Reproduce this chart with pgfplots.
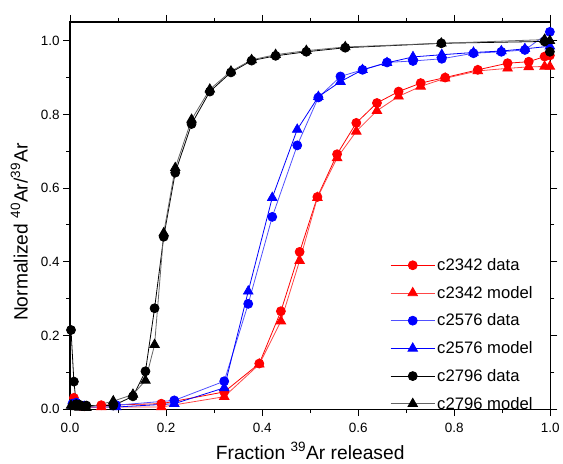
\documentclass[border=0pt]{standalone}
\usepackage{pgfplots}
\pgfplotsset{compat=1.18}
\usepackage{fontspec}
\setmainfont{Liberation Sans}
\definecolor{redmodel}{RGB}{255,70,70}
\definecolor{bluedata}{RGB}{80,80,255}
\definecolor{graymodel}{RGB}{100,100,100}
\begin{document}
\begin{tikzpicture}
\begin{axis}[
  scale only axis, width=482pt, height=388.7pt,
  xmin=0, xmax=1, ymin=0, ymax=1.051,
  xtick={0,0.2,0.4,0.6,0.8,1.0}, minor x tick num=1,
  ytick={0,0.2,0.4,0.6,0.8,1.0}, minor y tick num=1,
  tick align=outside, major tick length=7pt, minor tick length=4pt,
  axis line style={line width=1.2pt, black},
  tick style={line width=1pt, black},
  clip=false,
  xticklabel style={/pgf/number format/fixed, /pgf/number format/fixed zerofill, /pgf/number format/precision=1, /pgf/number format/assume math mode=true, font=\fontsize{13.5}{16}\selectfont, yshift=-3pt},
  yticklabel style={/pgf/number format/fixed, /pgf/number format/fixed zerofill, /pgf/number format/precision=1, /pgf/number format/assume math mode=true, font=\fontsize{13.5}{16}\selectfont},
  xlabel={Fraction \textsuperscript{39}Ar released},
  ylabel={Normalized \textsuperscript{40}Ar/\textsuperscript{39}Ar},
  xlabel style={font=\fontsize{19.3}{23}\selectfont, at={(axis description cs:0.5,0)}, anchor=base, yshift=-50pt},
  ylabel style={font=\fontsize{19.3}{23}\selectfont, at={(axis description cs:0,0.457)}, anchor=base, yshift=42.6pt},
  legend cell align=left,
  legend style={draw=none, fill=none, at={(rel axis cs:0.66,0.40)}, anchor=north west,
    font=\fontsize{16.7}{20}\selectfont, row sep=10.2pt},
  legend image code/.code={\draw[mark repeat=2,mark phase=2,#1] plot coordinates {(0cm,0cm) (0.78cm,0cm) (1.56cm,0cm)};},
]
% c2342 data
\addplot[red, line width=0.8pt, mark=*, mark size=4.5pt, mark options={fill=red, draw=red}] coordinates {
(0.008,0.031)(0.015,0.012)(0.03,0.008)(0.065,0.011)(0.19,0.015)(0.321,0.047)(0.394,0.124)(0.439,0.266)(0.478,0.427)(0.515,0.576)(0.556,0.692)(0.596,0.777)(0.639,0.831)(0.684,0.862)(0.730,0.885)(0.781,0.900)(0.849,0.921)(0.911,0.939)(0.955,0.943)(0.988,0.957)(0.999,0.96)};
\addlegendentry{c2342 data}
% c2342 model
\addplot[redmodel, line width=0.8pt, mark=triangle*, mark size=5.5pt, mark options={fill=red, draw=red}] coordinates {
(0.008,0.015)(0.015,0.008)(0.03,0.005)(0.065,0.006)(0.19,0.006)(0.321,0.034)(0.394,0.122)(0.439,0.239)(0.478,0.403)(0.515,0.574)(0.556,0.682)(0.596,0.754)(0.639,0.810)(0.684,0.849)(0.730,0.876)(0.781,0.898)(0.849,0.918)(0.911,0.925)(0.955,0.929)(0.988,0.930)(0.999,0.93)};
\addlegendentry{c2342 model}
% c2576 data
\addplot[bluedata, line width=0.8pt, mark=*, mark size=4.5pt, mark options={fill=blue, draw=blue}] coordinates {
(0.005,0.015)(0.013,0.018)(0.03,0.01)(0.096,0.011)(0.217,0.024)(0.321,0.076)(0.371,0.286)(0.421,0.522)(0.473,0.716)(0.517,0.846)(0.563,0.903)(0.609,0.921)(0.66,0.941)(0.714,0.945)(0.774,0.951)(0.840,0.966)(0.898,0.970)(0.947,0.975)(0.999,1.024)};
\addlegendentry{c2576 data}
% c2576 model
\addplot[blue, line width=0.8pt, mark=triangle*, mark size=5.5pt, mark options={fill=blue, draw=blue}] coordinates {
(0.005,0.01)(0.013,0.012)(0.03,0.006)(0.096,0.006)(0.217,0.015)(0.321,0.058)(0.371,0.32)(0.421,0.574)(0.473,0.759)(0.517,0.848)(0.563,0.889)(0.609,0.921)(0.66,0.94)(0.714,0.956)(0.774,0.962)(0.840,0.968)(0.898,0.972)(0.947,0.978)(0.999,0.985)};
\addlegendentry{c2576 model}
% c2796 data
\addplot[black, line width=0.8pt, mark=*, mark size=4.5pt, mark options={fill=black, draw=black}] coordinates {
(0.002,0.215)(0.008,0.075)(0.013,0.014)(0.02,0.012)(0.034,0.01)(0.09,0.01)(0.131,0.035)(0.157,0.103)(0.176,0.274)(0.195,0.468)(0.219,0.642)(0.253,0.774)(0.291,0.862)(0.335,0.914)(0.378,0.946)(0.428,0.959)(0.492,0.970)(0.573,0.981)(0.773,0.993)(0.988,0.998)(0.999,0.97)};
\addlegendentry{c2796 data}
% c2796 model
\addplot[graymodel, line width=0.8pt, mark=triangle*, mark size=5.5pt, mark options={fill=black, draw=black}] coordinates {
(0.002,0.01)(0.008,0.008)(0.013,0.006)(0.02,0.005)(0.034,0.004)(0.09,0.022)(0.131,0.04)(0.157,0.078)(0.176,0.175)(0.195,0.478)(0.219,0.655)(0.253,0.786)(0.291,0.868)(0.335,0.917)(0.378,0.948)(0.428,0.962)(0.492,0.973)(0.573,0.983)(0.773,0.993)(0.988,1.003)(0.999,1.0)};
\addlegendentry{c2796 model}
\path (rel axis cs:0,0) ++(-70.3pt,-54.3pt) (rel axis cs:1,1) ++(10.7pt,22pt);
\end{axis}
\end{tikzpicture}
\end{document}
